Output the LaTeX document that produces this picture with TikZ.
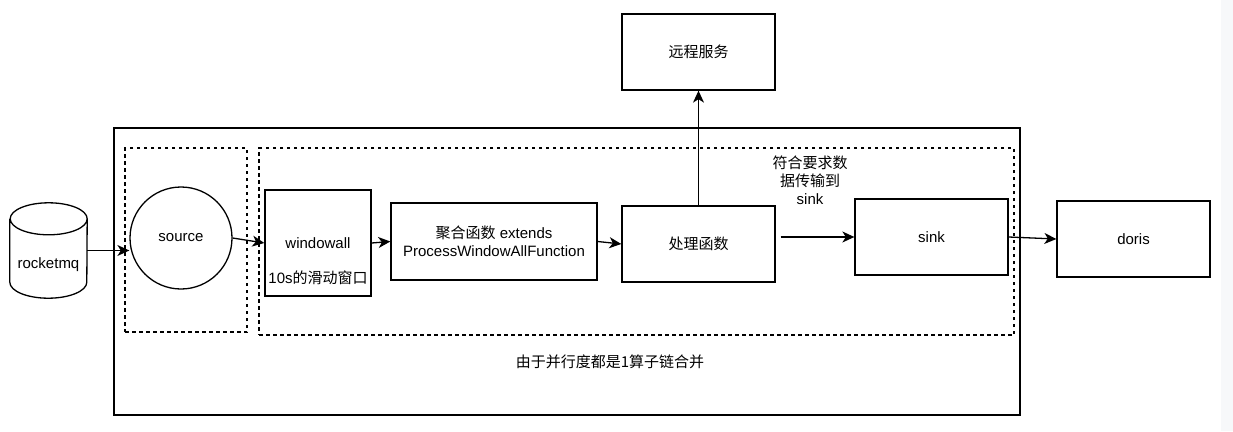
\documentclass[tikz,border=0pt]{standalone}
\usepackage{fontspec}
\setmainfont{Liberation Sans}
\newfontfamily\cjk{Noto Sans CJK SC}
\usetikzlibrary{arrows.meta,positioning,shapes.geometric,calc}
\definecolor{stripgray}{HTML}{F7F8FA}

\begin{document}
\begin{tikzpicture}[
    x=1pt, y=-1pt,
    font=\fontsize{15}{18}\selectfont,
    box/.style={rectangle, draw, line width=1.3pt, inner sep=0pt, align=center},
    group/.style={rectangle, draw, line width=1.2pt, dash pattern=on 3.5pt off 3.5pt, inner sep=0pt},
    arrow/.style={-{Stealth[length=12pt,width=11pt,inset=3.5pt]}, line width=1.3pt}
]
\useasboundingbox (0,0) rectangle (1233,431);
\fill[stripgray] (1221,0) rectangle (1233,431);

% Operator chain and groups
\node[box, minimum width=906pt, minimum height=287pt] (chain) at (567,271.5) {};
\node[group, minimum width=122pt, minimum height=184pt] (srcgroup) at (186,240) {};
\node[group, minimum width=755pt, minimum height=187pt] (opgroup) at (636.5,241.5) {};
\node (chainnote) at (610,362) {\cjk 由于并行度都是1算子链合并};

% Source side
\node[minimum width=77pt, minimum height=95pt, inner sep=0pt,
      label={[yshift=-14.5pt]center:rocketmq}] (mq) at (48.5,250.5) {};
\draw[line width=1.3pt] ($(mq.north west)+(0,16)$) -- ($(mq.south west)+(0,-16)$)
    arc[start angle=180, end angle=360, x radius=38.5pt, y radius=16pt]
    -- ($(mq.north east)+(0,16)$)
    arc[start angle=0, end angle=360, x radius=38.5pt, y radius=16pt];
\node[circle, draw, line width=1.3pt, minimum size=102pt, inner sep=0pt] (source) at (181,238) {source};

% Operators
\node[box, minimum width=106pt, minimum height=106pt,
      label={[yshift=0pt]center:windowall},
      label={[yshift=-35pt]center:10s{\cjk 的滑动窗口}}] (windowall) at (318,243) {};
\node[box, minimum width=206pt, minimum height=77pt] (aggfunc) at (494,241.5) {{\cjk 聚合函数} extends\\ProcessWindowAllFunction};
\node[box, minimum width=153pt, minimum height=76pt] (procfunc) at (698.5,244) {\cjk 处理函数};
\node[box, minimum width=153pt, minimum height=76pt] (remote) at (698.5,52) {\cjk 远程服务};
\node[box, minimum width=153pt, minimum height=76pt] (sink) at (931.5,237) {sink};
\node[box, minimum width=153pt, minimum height=76pt] (doris) at (1133.5,239) {doris};
\node[align=center] (sinknote) at (810,180) {{\cjk 符合要求数}\\{\cjk 据传输到}\\sink};

% Connections
\draw[arrow] (mq.east) -- (mq.east -| source.west);
\draw[arrow] (source.east) -- (windowall.west);
\draw[arrow] (windowall.east) -- (aggfunc.west);
\draw[arrow] (aggfunc.east) -- (procfunc.west);
\draw[arrow] (procfunc.north) -- (remote.south);
\draw[arrow, shorten <=5pt] (procfunc.east |- sink.west) -- (sink.west);
\draw[arrow] (sink.east) -- (doris.west);

\end{tikzpicture}
\end{document}
